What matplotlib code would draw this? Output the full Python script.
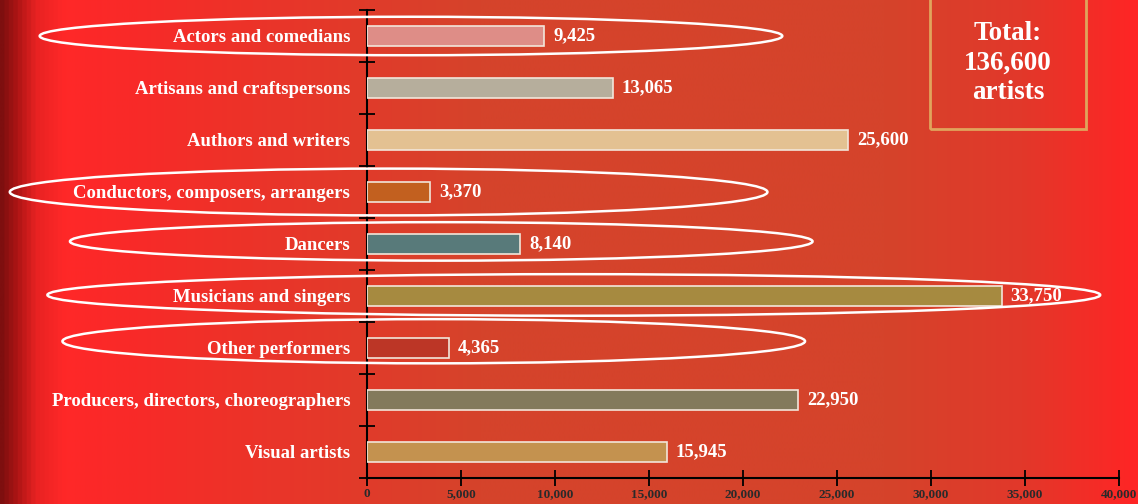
import matplotlib.pyplot as plt
import numpy as np
from matplotlib.colors import LinearSegmentedColormap
from matplotlib.patches import Ellipse, Rectangle

# Data
categories = ['Actors and comedians', 'Artisans and craftspersons', 'Authors and writers',
              'Conductors, composers, arrangers', 'Dancers', 'Musicians and singers',
              'Other performers', 'Producers, directors, choreographers', 'Visual artists']
values = [9425, 13065, 25600, 3370, 8140, 33750, 4365, 22950, 15945]
bar_colors = ['#DE8D87', '#B6AE9C', '#E3C192', '#C2601F', '#587A7A',
              '#A68A40', '#BC3626', '#837A5C', '#C4924F']
xticks = [0, 5000, 10000, 15000, 20000, 25000, 30000, 35000, 40000]
total_text = 'Total:\n136,600\nartists'

# circled rows: (category index, x centre, width, height, y shift)
circled = [(0, 2340, 39500, 0.74, 0.0),
           (3, 1150, 40300, 0.90, 0.0),
           (4, 3950, 39500, 0.74, -0.05),
           (5, 11000, 56000, 0.80, -0.02),
           (6, 3550, 39500, 0.85, -0.13)]

plt.rcParams['font.family'] = ['Liberation Serif', 'DejaVu Serif']

fig = plt.figure(figsize=(11.38, 5.04), dpi=100)

# background gradient
bg = fig.add_axes([0, 0, 1, 1])
bg_cmap = LinearSegmentedColormap.from_list('bg', [
    (0.0, '#7E0F0F'), (0.012, '#A81414'), (0.03, '#E82222'), (0.055, '#FF2828'),
    (0.12, '#F82A28'), (0.22, '#EC3329'), (0.42, '#D5432B'), (0.78, '#D5432B'),
    (0.9, '#E2382A'), (1.0, '#FF2525')])
grad = np.linspace(0, 1, 2048).reshape(1, -1)
bg.imshow(grad, aspect='auto', cmap=bg_cmap, extent=[0, 1, 0, 1], interpolation='bilinear')
bg.axis('off')

ax = fig.add_axes([367 / 1138, 26 / 504, 752 / 1138, 468 / 504])
ax.patch.set_alpha(0)

y = np.arange(len(categories))
ax.barh(y, values, height=0.4, color=bar_colors, edgecolor='#F2E6DA', linewidth=1.2, zorder=3)

for yi, v in zip(y, values):
    ax.text(v + 480, yi, f'{v:,}', va='center', ha='left', color='white',
            fontsize=13.5, fontweight='bold', zorder=4)

ax.set_xlim(0, 40000)
ax.set_ylim(len(categories) - 0.5, -0.5)

ax.set_yticks(y)
ax.set_yticklabels(categories, color='white', fontsize=13.5, fontweight='bold')
ax.set_yticks(np.arange(-0.5, len(categories)), minor=True)
ax.tick_params(axis='y', which='major', length=0, pad=12)
ax.tick_params(axis='y', which='minor', length=11, width=1.3, direction='inout', color='black')

ax.set_xticks(xticks)
ax.set_xticklabels([f'{t:,}' for t in xticks], color='#2A2A2A', fontsize=9.5, fontweight='bold')
ax.tick_params(axis='x', length=11, width=1.3, direction='inout', color='black', pad=2)

for s in ['top', 'right']:
    ax.spines[s].set_visible(False)
for s in ['left', 'bottom']:
    ax.spines[s].set_linewidth(1.5)
    ax.spines[s].set_color('black')

# white hand-drawn style ellipses around highlighted rows
for idx, xc, w, h, dy in circled:
    e = Ellipse((xc, idx + dy), w, h, fill=False, edgecolor='white', linewidth=1.8,
                clip_on=False, zorder=5)
    ax.add_patch(e)

# total box
fig.add_artist(Rectangle((930 / 1138, 1 - 129 / 504), 156 / 1138, 140 / 504,
                         transform=fig.transFigure, fill=False, edgecolor='#E0A45C',
                         linewidth=2))
fig.text(1008 / 1138, 1 - 63 / 504, total_text, ha='center', va='center', color='white',
         fontsize=19.5, fontweight='bold', linespacing=1.25)

fig.savefig('out.png', dpi=100)
